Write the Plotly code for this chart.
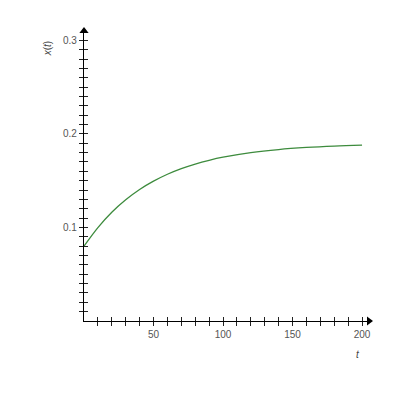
import plotly.graph_objects as go

# values
t = [0, 10, 20, 30, 40, 50, 60, 70, 80, 90, 100, 120, 140, 160, 180, 200]
x_t = [0.080, 0.0999, 0.1163, 0.1296, 0.1406, 0.1495, 0.1569, 0.1629, 0.1678,
       0.1718, 0.1751, 0.1800, 0.1833, 0.1855, 0.1870, 0.1880]

x_ticks = list(range(10, 201, 10))
x_labels = [str(v) if v % 50 == 0 else "" for v in x_ticks]
y_ticks = [round(i * 0.01, 2) for i in range(1, 31)]
y_labels = [f"{v:g}" if round(v * 100) % 10 == 0 else "" for v in y_ticks]

x_range = [0, 205]
y_range = [0, 0.31]
tick_font = dict(family="Liberation Sans, Arial", size=10, color="#555555")
label_font = dict(family="Liberation Sans, Arial", size=10, color="#444444")

fig = go.Figure()
fig.add_trace(go.Scatter(x=t, y=x_t, mode="lines", line=dict(color="#3d8b3d", width=1.3, shape="spline"),
                         hoverinfo="skip"))
# axis arrowheads
fig.add_trace(go.Scatter(x=[x_range[1]], y=[0], mode="markers", cliponaxis=False,
                         marker=dict(symbol="triangle-right", size=8, color="black")))
fig.add_trace(go.Scatter(x=[0], y=[y_range[1]], mode="markers", cliponaxis=False,
                         marker=dict(symbol="triangle-up", size=8, color="black")))

axis_common = dict(showgrid=False, zeroline=False, ticklen=4, tickwidth=1, tickcolor="#222222")

fig.update_layout(
    width=400, height=400,
    margin=dict(l=76, r=39, t=23, b=87),
    paper_bgcolor="white", plot_bgcolor="white",
    showlegend=False,
    xaxis=dict(range=x_range, tickmode="array", tickvals=x_ticks, ticktext=x_labels,
               ticks="outside", showline=True, linecolor="black", linewidth=1.3,
               tickfont=tick_font, **axis_common),
    yaxis=dict(range=y_range, tickmode="array", tickvals=y_ticks, ticktext=y_labels,
               ticks="outside", showline=True, linecolor="black", linewidth=1.3,
               tickfont=tick_font, **axis_common),
    xaxis2=dict(range=x_range, overlaying="x", anchor="y", side="bottom", tickmode="array",
                tickvals=x_ticks, ticks="inside", showticklabels=False, showline=False, **axis_common),
    yaxis2=dict(range=y_range, overlaying="y", anchor="x", side="left", tickmode="array",
                tickvals=y_ticks, ticks="inside", showticklabels=False, showline=False, **axis_common),
    annotations=[
        dict(text="<i>x</i>(<i>t</i>)", xref="paper", yref="paper", x=-0.13, y=0.94,
             xanchor="center", yanchor="middle",
             showarrow=False, textangle=-90, font=label_font),
        dict(text="<i>t</i>", xref="paper", yref="paper", x=0.96, y=-0.114,
             xanchor="center", yanchor="middle", showarrow=False, font=label_font),
    ],
)
fig.add_trace(go.Scatter(x=[None], y=[None], xaxis="x2", yaxis="y2", hoverinfo="skip"))

fig.write_html("out.html")
